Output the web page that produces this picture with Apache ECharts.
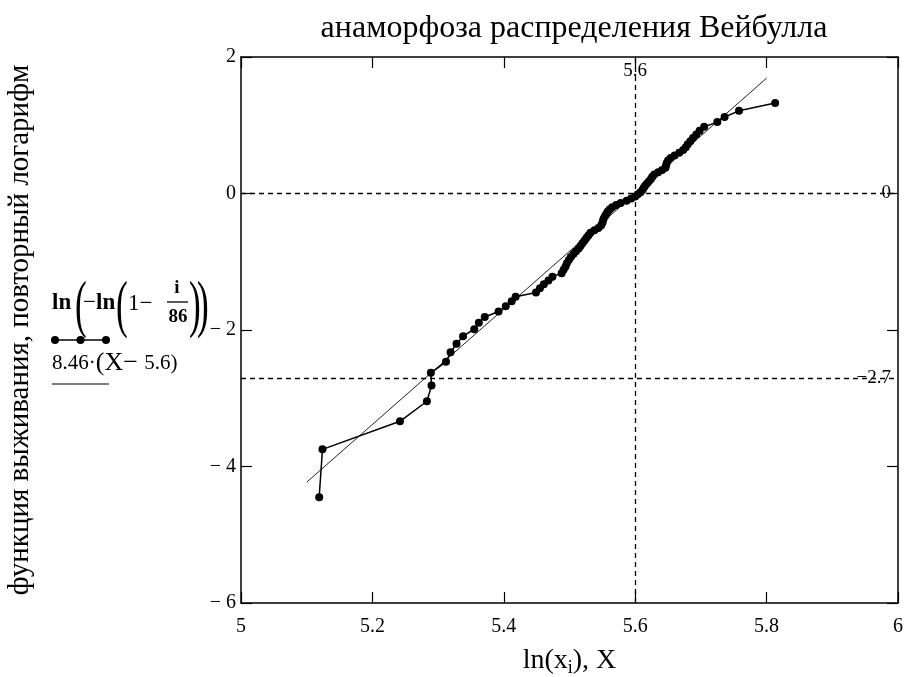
<!DOCTYPE html>
<html>
<head>
<meta charset="utf-8">
<script src="https://cdn.jsdelivr.net/npm/echarts@6/dist/echarts.min.js"></script>
<style>
  html, body { margin: 0; padding: 0; background: #fff; }
  #chart { width: 907px; height: 677px; }
</style>
</head>
<body>
<div id="chart"></div>
<script>
// ln(x_i), отсортированные наработки
const lnX = [
  5.119, 5.124, 5.242, 5.283, 5.290, 5.289, 5.312, 5.319, 5.328, 5.338,
  5.355, 5.362, 5.371, 5.392, 5.403, 5.412, 5.418, 5.449, 5.455, 5.461,
  5.468, 5.474, 5.488, 5.491, 5.494, 5.496, 5.499, 5.502, 5.506, 5.510,
  5.514, 5.517, 5.520, 5.523, 5.526, 5.529, 5.532, 5.538, 5.544, 5.548,
  5.550, 5.551, 5.552, 5.554, 5.556, 5.558, 5.561, 5.565, 5.571, 5.578,
  5.587, 5.594, 5.600, 5.604, 5.608, 5.611, 5.613, 5.615, 5.618, 5.621,
  5.624, 5.626, 5.629, 5.635, 5.641, 5.646, 5.647, 5.648, 5.650, 5.654,
  5.660, 5.667, 5.673, 5.677, 5.680, 5.684, 5.688, 5.693, 5.698, 5.705,
  5.725, 5.736, 5.758, 5.813
];

// ln(-ln(1 - i/86)), i = 1..84
const survivalLog = [
  -4.449, -3.749, -3.338, -3.044, -2.815, -2.627, -2.466, -2.327, -2.202, -2.091,
  -1.989, -1.895, -1.809, -1.728, -1.652, -1.580, -1.513, -1.449, -1.388, -1.329,
  -1.273, -1.219, -1.167, -1.117, -1.069, -1.022, -0.976, -0.932, -0.888, -0.846,
  -0.805, -0.765, -0.726, -0.687, -0.649, -0.612, -0.575, -0.539, -0.504, -0.469,
  -0.434, -0.400, -0.367, -0.333, -0.300, -0.267, -0.235, -0.202, -0.170, -0.138,
  -0.107, -0.075, -0.043, -0.011, 0.020, 0.052, 0.084, 0.115, 0.147, 0.179,
  0.212, 0.244, 0.277, 0.310, 0.343, 0.378, 0.412, 0.447, 0.483, 0.520,
  0.558, 0.596, 0.636, 0.678, 0.721, 0.766, 0.814, 0.865, 0.920, 0.979,
  1.046, 1.121, 1.211, 1.325
];

// прямая 8.46·(X − 5.6)
const fitX = [5.1, 5.8];
const fitY = [-4.23, 1.69];

// пунктирные маркеры
const markX = [5.6];
const markY = [0, -2.7];
const markYLabels = ["0", "\u22122.7"];

const xTickLabels = ["5", "5.2", "5.4", "5.6", "5.8", "6"];
const yTickLabels = ["\u2212 6", "\u2212 4", "\u2212 2", "0", "2"];

const FONT = '"Liberation Serif", "Times New Roman", serif';

const chart = echarts.init(document.getElementById("chart"));

const axisLine = { show: true, onZero: false, lineStyle: { color: "#000", width: 1.5 } };
const axisTick = { show: true, inside: true, length: 11, lineStyle: { color: "#000", width: 1.2 } };

const points = lnX.map((x, i) => [x, survivalLog[i]]);
const fitLine = fitX.map((x, i) => [x, fitY[i]]);

const option = {
  animation: false,
  backgroundColor: "#fff",
  textStyle: { fontFamily: FONT, color: "#000" },
  title: {
    text: "анаморфоза распределения Вейбулла",
    left: 569,
    top: 8,
    textAlign: "center",
    textStyle: { fontFamily: FONT, fontSize: 32, fontWeight: "normal", color: "#000" },
  },
  grid: { left: 241, right: 9, top: 57, bottom: 74, containLabel: false, outerBoundsMode: "none" },
  xAxis: [
    {
      type: "value",
      min: 5,
      max: 6,
      interval: 0.2,
      axisLine,
      axisTick,
      splitLine: { show: false },
      axisLabel: {
        fontFamily: FONT,
        fontSize: 20,
        color: "#000",
        margin: 14,
        formatter: (v) => xTickLabels[Math.round((v - 5) / 0.2)],
      },
      name: "ln(x{sub|i}), X",
      nameLocation: "middle",
      nameGap: 42,
      nameTextStyle: {
        fontFamily: FONT,
        fontSize: 28,
        color: "#000",
        rich: { sub: { fontFamily: FONT, fontSize: 18, padding: [14, 0, 0, 0] } },
      },
    },
    {
      type: "value",
      position: "top",
      min: 5,
      max: 6,
      interval: 0.2,
      axisLine,
      axisTick,
      axisLabel: { show: false },
      splitLine: { show: false },
    },
  ],
  yAxis: [
    {
      type: "value",
      min: -6,
      max: 2,
      interval: 2,
      axisLine,
      axisTick,
      splitLine: { show: false },
      axisLabel: {
        fontFamily: FONT,
        fontSize: 20,
        color: "#000",
        margin: 5,
        formatter: (v) => yTickLabels[Math.round((v + 6) / 2)],
      },
      name: "функция выживания, повторный логарифм",
      nameLocation: "middle",
      nameRotate: 90,
      nameGap: 206,
      nameTextStyle: { fontFamily: FONT, fontSize: 29, color: "#000" },
    },
    {
      type: "value",
      position: "right",
      min: -6,
      max: 2,
      interval: 2,
      axisLine,
      axisTick,
      axisLabel: { show: false },
      splitLine: { show: false },
    },
  ],
  series: [
    {
      name: "ln(-ln(1-i/86))",
      type: "line",
      data: points,
      symbol: "circle",
      symbolSize: 8,
      itemStyle: { color: "#000" },
      lineStyle: { color: "#000", width: 1.5 },
      markLine: {
        silent: true,
        symbol: "none",
        lineStyle: { color: "#000", width: 1.3, type: [5, 4] },
        label: { fontFamily: FONT, fontSize: 19, color: "#000" },
        data: [
          ...markX.map((x) => ({
            xAxis: x,
            label: { position: "end", distance: -24, formatter: String(x) },
          })),
          ...markY.map((y, k) => ({
            yAxis: y,
            label: { position: "insideEnd", distance: 7, formatter: markYLabels[k] },
          })),
        ],
      },
      z: 3,
    },
    {
      name: "8.46·(X−5.6)",
      type: "line",
      data: fitLine,
      symbol: "none",
      lineStyle: { color: "#222", width: 1 },
      z: 2,
    },
  ],
  graphic: [
    { type: "text", x: 52, y: 303, style: { text: "ln", font: 'bold 23px ' + FONT, fill: "#000", textVerticalAlign: "middle" } },
    { type: "text", x: 75, y: 308, scaleX: 0.55, style: { text: "(", font: '64px ' + FONT, fill: "#000", textVerticalAlign: "middle" } },
    { type: "text", x: 83, y: 303, style: { text: "\u2212", font: '23px ' + FONT, fill: "#000", textVerticalAlign: "middle" } },
    { type: "text", x: 96, y: 303, style: { text: "ln", font: 'bold 23px ' + FONT, fill: "#000", textVerticalAlign: "middle" } },
    { type: "text", x: 116, y: 308, scaleX: 0.55, style: { text: "(", font: '64px ' + FONT, fill: "#000", textVerticalAlign: "middle" } },
    { type: "text", x: 128, y: 304, style: { text: "1\u2212", font: '23px ' + FONT, fill: "#000", textVerticalAlign: "middle" } },
    { type: "text", x: 177, y: 288, style: { text: "i", font: 'bold 19px ' + FONT, fill: "#000", textAlign: "center", textVerticalAlign: "middle" } },
    { type: "line", shape: { x1: 167, y1: 302, x2: 188, y2: 302 }, style: { stroke: "#000", lineWidth: 1.3 } },
    { type: "text", x: 178, y: 317, style: { text: "86", font: 'bold 19px ' + FONT, fill: "#000", textAlign: "center", textVerticalAlign: "middle" } },
    { type: "text", x: 189, y: 308, scaleX: 0.55, style: { text: ")", font: '64px ' + FONT, fill: "#000", textVerticalAlign: "middle" } },
    { type: "text", x: 197, y: 308, scaleX: 0.55, style: { text: ")", font: '64px ' + FONT, fill: "#000", textVerticalAlign: "middle" } },
    { type: "line", shape: { x1: 55, y1: 340, x2: 106, y2: 340 }, style: { stroke: "#000", lineWidth: 1.5 } },
    { type: "circle", shape: { cx: 55, cy: 340, r: 4 }, style: { fill: "#000" } },
    { type: "circle", shape: { cx: 80.5, cy: 340, r: 4 }, style: { fill: "#000" } },
    { type: "circle", shape: { cx: 106, cy: 340, r: 4 }, style: { fill: "#000" } },
    {
      type: "text",
      x: 52,
      y: 363,
      style: {
        text: "{a|8.46·}{b|(X\u2212 }{a|5.6)}",
        font: '22px ' + FONT,
        fill: "#000",
        textVerticalAlign: "middle",
        rich: {
          a: { fontFamily: FONT, fontSize: 21, fill: "#000" },
          b: { fontFamily: FONT, fontSize: 26, fill: "#000" },
        },
      },
    },
    { type: "line", shape: { x1: 52, y1: 384, x2: 109, y2: 384 }, style: { stroke: "#000", lineWidth: 1.2 } },
  ],
};

chart.setOption(option);
</script>
</body>
</html>
